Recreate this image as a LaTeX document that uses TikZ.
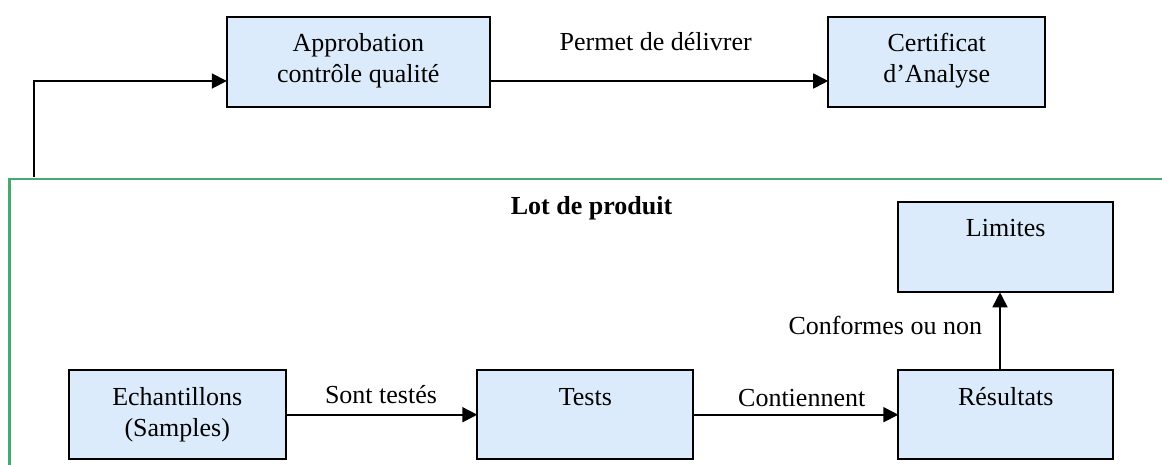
\documentclass[tikz,border=0pt]{standalone}
\usepackage{fontspec}
\setmainfont{Liberation Serif}
\usetikzlibrary{arrows.meta,calc}
\definecolor{boxfill}{RGB}{220,235,251}
\definecolor{framegreen}{RGB}{72,168,112}
\tikzset{
  box/.style={draw=black, fill=boxfill, line width=1.8pt, rectangle, inner sep=0pt, outer sep=0pt, minimum height=90pt},
  txt/.style={font=\fontsize{26pt}{31pt}\selectfont, inner sep=0pt, outer sep=0pt, align=center, anchor=base},
  boxtxt/.style={font=\fontsize{26pt}{31pt}\selectfont, inner sep=0pt, outer sep=0pt, align=center, anchor=north},
  arr/.style={line width=1.8pt, -{Triangle[length=15pt,width=15pt]}},
  frame/.style={draw=framegreen, line width=2.2pt}
}
\begin{document}
\begin{tikzpicture}[x=1pt,y=-1pt]
\useasboundingbox (0,0) rectangle (1162,464);
% green frame (Lot de produit)
\draw[frame] (9.5,470) -- (9.5,179.2) -- (1170,179.2);
\node[txt, font=\fontsize{26pt}{31pt}\selectfont\bfseries] (lot) at (591.5,214) {Lot de produit};
% boxes
\node[box, minimum width=263pt] (appr) at (358.3,61.7) {};
\node[box, minimum width=217pt] (cert) at (936.7,61.7) {};
\node[box, minimum width=216.7pt, minimum height=89.3pt] (ech) at (177.3,414.7) {};
\node[box, minimum width=216pt, minimum height=89.3pt] (tests) at (585.3,414.7) {};
\node[box, minimum width=214.7pt, minimum height=89.3pt] (res) at (1005.7,414.7) {};
\node[box, minimum width=214.7pt, minimum height=90.6pt] (lim) at (1005.7,247) {};
% box texts
\node[boxtxt] (apprT) at (358.3,27.7) {\rule{0pt}{24pt}Approbation\\contrôle qualité};
\node[boxtxt] (certT) at (936.7,27.7) {\rule{0pt}{24pt}Certificat\\d’Analyse};
\node[boxtxt] (echT) at (177.3,381) {\rule{0pt}{24pt}Echantillons\\(Samples)};
\node[boxtxt] (testsT) at (585.3,381) {\rule{0pt}{24pt}Tests};
\node[boxtxt] (resT) at (1005.7,381) {\rule{0pt}{24pt}Résultats};
\node[boxtxt] (limT) at (1005.7,212.7) {\rule{0pt}{24pt}Limites};
% connectors
\coordinate (start) at (34.3,176.5);
\draw[arr] (start) |- ([yshift=-19.3pt]appr.west);
\draw[arr] ([yshift=-19.3pt]appr.east) -- ([yshift=-19.3pt]cert.west);
\draw[arr] (ech.east) -- (tests.west);
\draw[arr] (tests.east) -- (res.west);
\draw[arr] ([xshift=-5.7pt]res.north) -- ([xshift=-5.7pt]lim.south);
% connector labels
\node[txt] (l1) at (655.7,50) {Permet de délivrer};
\node[txt] (l2) at (381,403.3) {Sont testés};
\node[txt] (l3) at (801.7,406.7) {Contiennent};
\node[txt] (l4) at (885.3,334) {Conformes ou non};
\end{tikzpicture}
\end{document}
